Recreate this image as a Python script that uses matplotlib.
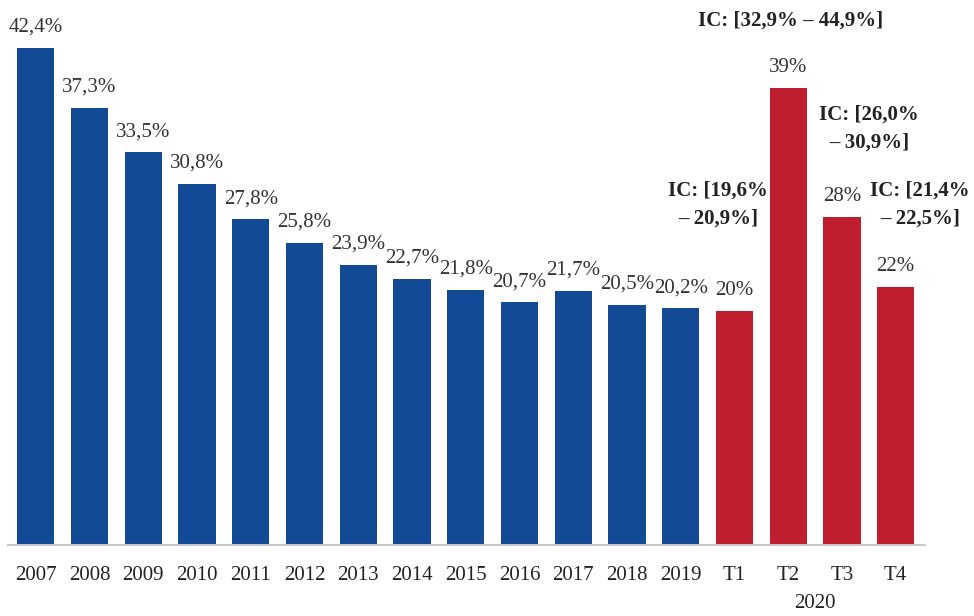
import matplotlib.pyplot as plt

categories = ['2007', '2008', '2009', '2010', '2011', '2012', '2013', '2014',
              '2015', '2016', '2017', '2018', '2019', 'T1', 'T2', 'T3', 'T4']
values = [42.4, 37.3, 33.5, 30.8, 27.8, 25.8, 23.9, 22.7,
          21.8, 20.7, 21.7, 20.5, 20.2, 20, 39, 28, 22]
value_labels = ['42,4%', '37,3%', '33,5%', '30,8%', '27,8%', '25,8%', '23,9%', '22,7%',
                '21,8%', '20,7%', '21,7%', '20,5%', '20,2%', '20%', '39%', '28%', '22%']
is_2020 = [False] * 13 + [True] * 4

# confidence intervals for the 2020 quarters
ic_labels = {
    'T1': 'IC: [19,6%\n– 20,9%]',
    'T2': 'IC: [32,9% – 44,9%]',
    'T3': 'IC: [26,0%\n– 30,9%]',
    'T4': 'IC: [21,4%\n– 22,5%]',
}

BLUE = '#134A96'
RED = '#BE1E2D'

plt.rcParams['font.family'] = ['Liberation Serif', 'DejaVu Serif']

fig = plt.figure(figsize=(9.74, 6.16), dpi=100)
ax = fig.add_axes([0.008, 0.115, 0.942, 0.885])

x = list(range(len(categories)))
colors = [RED if r else BLUE for r in is_2020]
ax.bar(x, values, width=0.69, color=colors)

for xi, v, lab in zip(x, values, value_labels):
    ax.annotate(lab, (xi, v), xytext=(0, 8), textcoords='offset points',
                ha='center', va='bottom', fontsize=15, color='#333333')

# IC annotations (positions relative to bars)
ic_pos = {'T1': (-0.3, 27.0), 'T2': (0.05, 43.9), 'T3': (0.5, 33.5), 'T4': (0.45, 27.0)}
for cat, text in ic_labels.items():
    i = categories.index(cat)
    dx, y = ic_pos[cat]
    ax.text(i + dx, y, text, ha='center', va='bottom', fontsize=15,
            fontweight='bold', color='#222222', linespacing=1.55)

ax.set_xlim(-0.52, 16.55)
ax.set_ylim(0, 46.5)
ax.set_xticks(x)
ax.set_xticklabels(categories, fontsize=15, color='#222222')
ax.tick_params(axis='x', length=0, pad=15)
ax.set_yticks([])
for side in ['top', 'right', 'left']:
    ax.spines[side].set_visible(False)
ax.spines['bottom'].set_color('#C8C8C8')
ax.spines['bottom'].set_linewidth(1.5)

ax.text(14.5, -4.95, '2020', ha='center', va='center', fontsize=15, color='#222222')

fig.savefig('out.png', dpi=100)
